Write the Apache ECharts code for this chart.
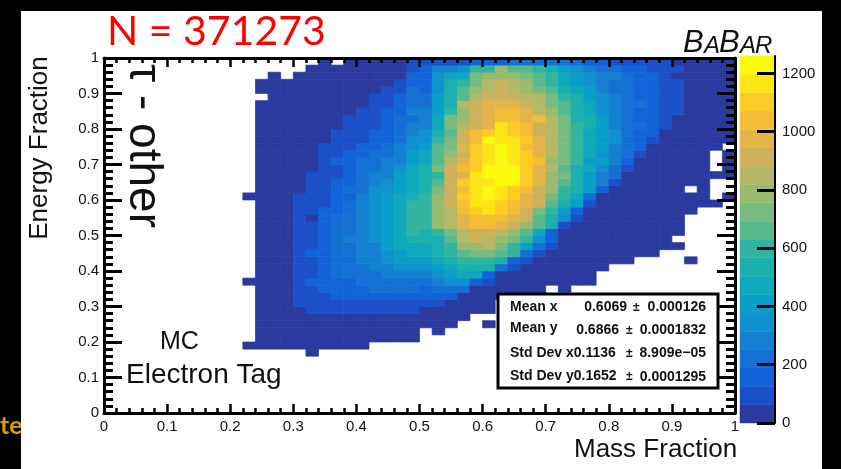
<!DOCTYPE html>
<html><head><meta charset="utf-8">
<style>html,body{margin:0;padding:0;background:#000}#c{width:841px;height:469px}</style>
<script src="https://cdn.jsdelivr.net/npm/echarts@6/dist/echarts.min.js"></script>
</head><body><div id="c"></div>
<script>
// Counts per bin. Each row starts at x bin 11 (x = 0.22); bin size 0.02. 0 = empty bin.
const firstXBin = 11, firstYBin = 8, binSize = 0.02, levelStep = 63;
const r8=[0,0,0,0,0,30];
const r9=[30,30,30,30,30,30,30,30,30,30];
const r10=[0,30,30,30,30,30,30,30,30,30,30,30,30,30];
const r11=[0,30,30,30,30,30,30,30,30,30,30,30,30,30,0,30];
const r12=[0,30,30,30,30,30,30,30,30,30,30,30,30,30,30,30,30,0,0,30];
const r13=[0,30,30,30,30,30,30,30,30,30,30,30,30,30,30,30,30,30];
const r14=[0,30,30,30,30,95,95,95,95,95,95,95,95,95,30,30,30,30,30,30];
const r15=[0,30,30,30,95,95,95,95,95,95,95,95,95,95,95,95,30,30,30,30];
const r16=[0,30,30,30,95,95,95,158,158,158,158,158,158,158,158,158,158,30,30,30,30,30,30,30];
const r17=[0,30,30,30,95,95,158,158,158,158,220,220,220,220,158,220,220,220,30,30,30,30,30,30,0,30];
const r18=[30,30,30,30,95,158,158,158,158,220,220,220,220,220,220,283,346,346,158,95,30,30,30,30,30,30,30,30];
const r19=[0,30,30,30,95,95,158,220,220,220,220,283,283,283,283,346,409,472,472,158,30,30,30,30,30,30,30,30];
const r20=[0,30,30,30,95,95,158,220,220,220,283,283,346,346,346,409,472,535,535,535,220,95,30,30,30,30,30,30,30];
const r21=[0,30,30,30,95,95,158,220,220,283,283,346,409,409,409,472,535,598,598,598,535,158,95,30,30,30,30,30,30,30,30,0,0,0,0,30];
const r22=[0,30,30,30,95,158,158,220,220,283,283,346,409,472,472,535,598,661,724,724,661,598,220,95,30,30,30,30,30,30,30,30,30];
const r23=[0,30,30,30,95,95,158,220,220,283,283,409,472,472,472,535,598,787,787,850,724,598,409,220,95,30,30,30,30,30,30,30,30,30,30];
const r24=[0,30,30,30,95,95,158,220,283,283,346,409,472,535,535,535,661,850,913,850,787,724,598,346,158,30,30,30,30,30,30,30,30,30];
const r25=[0,30,30,30,95,95,158,220,220,283,346,409,472,598,535,598,724,850,913,913,850,787,661,472,158,30,30,30,30,30,30,30,30,30,30];
const r26=[0,30,30,30,95,95,158,220,220,283,346,409,472,598,598,787,850,976,1039,1039,976,913,787,661,535,95,30,30,30,30,30,30,30,30,30];
const r27=[0,30,30,30,95,30,158,220,220,283,346,409,472,598,598,787,850,976,1039,1039,1039,976,913,661,535,346,95,30,30,30,30,30,30,30,30];
const r28=[0,30,30,30,95,95,158,158,220,283,346,409,472,598,598,787,850,1039,1102,1165,1102,1039,913,724,598,409,158,30,30,30,30,30,30,30,30,30];
const r29=[0,30,30,30,95,95,95,158,220,283,346,409,472,598,598,787,913,1039,1165,1165,1102,1039,976,913,661,535,409,95,30,30,30,30,30,30,30,30,30,30];
const r30=[30,30,30,30,95,95,95,158,158,283,346,409,472,535,598,787,913,1102,1165,1228,1165,1102,976,913,724,598,472,220,30,30,30,30,30,30,30,30,30,0,30];
const r31=[0,30,30,30,30,95,95,158,220,220,346,346,409,472,535,724,913,1039,1165,1228,1165,1102,1039,913,787,598,535,409,158,30,30,30,30,30,30,0,30];
const r32=[0,30,30,30,30,95,95,158,158,220,283,346,409,472,535,661,913,1102,1165,1165,1228,1228,1102,976,787,661,535,409,283,95,30,30,30,30,30,30,30];
const r33=[0,30,30,30,30,95,95,95,158,220,283,283,409,472,535,598,913,976,1165,1228,1228,1228,1102,976,787,724,535,409,283,220,30,30,30,30,30,30,30,30,30];
const r34=[0,30,30,30,30,30,95,95,158,220,220,283,346,472,535,724,913,1039,1102,1228,1228,1228,1102,976,850,661,535,472,346,220,95,30,30,30,30,30,30,0,30];
const r35=[0,30,30,30,30,30,95,158,158,220,220,283,283,409,472,661,850,976,1102,1165,1228,1165,1102,1039,787,724,598,409,409,283,158,30,30,30,30,30,30,0,30];
const r36=[0,30,30,30,30,30,95,95,158,158,220,220,283,409,472,661,787,913,1102,1165,1228,1165,1102,976,850,724,598,472,346,283,220,95,30,30,30,30,30,0,30];
const r37=[0,30,30,30,30,30,95,95,95,158,158,220,283,346,409,661,724,976,1102,1165,1228,1165,1039,976,850,724,598,472,409,283,220,158,30,30,30,30,30,30];
const r38=[0,30,30,30,30,30,30,95,95,95,158,158,220,346,346,598,724,913,1039,1228,1165,1165,1102,976,850,724,598,472,409,346,220,158,95,30,30,30,30,30,30];
const r39=[0,30,30,30,30,30,30,95,95,95,158,158,220,283,346,535,661,913,1039,1102,1165,1102,1039,913,850,724,598,472,409,346,220,158,158,30,30,30,30,30,30];
const r40=[0,30,30,30,30,30,30,30,95,95,95,158,220,283,283,472,724,850,913,976,1165,1102,1039,913,850,724,598,535,409,283,220,220,158,95,30,30,30,30,30];
const r41=[0,30,30,30,30,30,30,30,95,95,95,158,220,220,283,472,724,787,913,976,1039,1039,976,1039,850,724,535,535,409,283,220,158,158,95,30,30,30,30,30];
const r42=[0,30,30,30,30,30,30,30,30,95,95,158,158,283,283,409,598,787,913,976,1039,1039,976,850,787,661,535,472,346,283,220,158,158,95,95,30,30,30,30];
const r43=[0,30,30,30,30,30,30,30,30,30,95,95,158,220,220,409,535,850,913,976,976,976,913,850,724,661,535,472,346,283,220,220,158,95,95,30,30,30,30];
const r44=[0,0,30,30,30,30,30,30,30,30,95,95,158,220,220,409,535,661,850,913,913,913,850,850,724,598,535,409,346,283,220,158,158,95,95,30,30,30,30];
const r45=[0,30,30,30,30,30,30,30,30,30,30,95,95,220,158,346,535,661,787,850,913,850,787,724,661,535,472,409,283,220,220,158,158,95,95,30,30,30,30];
const r46=[0,30,30,30,30,30,30,30,30,30,30,30,95,158,158,346,535,598,724,850,913,850,787,661,598,472,409,346,283,220,220,158,158,95,95,30,30,30,30];
const r47=[0,0,30,0,30,30,30,30,30,30,30,30,30,158,158,346,472,472,724,787,787,787,724,661,598,472,409,346,283,283,220,158,158,95,30,30,30,30,30];
const r48=[0,0,0,0,0,30,30,30,30,30,30,30,30,95,158,283,283,346,598,598,787,661,661,598,535,409,346,283,220,220,158,158,95,95,95,30,30,30,30];
const r49=[0,0,0,0,0,0,30,0,30,30,30,30,30,95,95,95,95,95,158,158,158,220,220,220,220,220,220,158,158,95,95,95,95,95,30,30,30,30,30];
const rows=[r8,r9,r10,r11,r12,r13,r14,r15,r16,r17,r18,r19,r20,r21,r22,r23,r24,r25,r26,r27,r28,r29,r30,r31,r32,r33,r34,r35,r36,r37,r38,r39,r40,r41,r42,r43,r44,r45,r46,r47,r48,r49];
const palette=['#2a3a9e','#1a50c8','#1263d9','#1570d6','#1480d0','#0f90cf','#099fc9','#10a8bd','#1bb0ad','#32b5a0','#57b98e','#78bb80','#98bb70','#b5b866','#cdb25b','#e2b44a','#f5bd35','#fdcb25','#fde516','#faf80c'];
const colorTicks=[0,200,400,600,800,1000,1200];
const colorMax=levelStep*palette.length;

const cells=[];
rows.forEach((row,j)=>row.forEach((v,i)=>{ if(v>0) cells.push([(firstXBin+i)*binSize,(firstYBin+j)*binSize,v]); }));
const barCells=palette.map((c,k)=>[k*levelStep,(k+1)*levelStep,k]);

const chart=echarts.init(document.getElementById('c'),null,{renderer:'canvas'});
const FF='"Liberation Sans",Arial,sans-serif';
const tickX={show:true,inside:true,length:9,lineStyle:{color:'#000',width:2.5}};
const minorX={show:true,splitNumber:5,length:5,lineStyle:{color:'#000',width:2.5}};
const tickY={show:true,inside:true,length:18,lineStyle:{color:'#000',width:3}};
const minorY={show:true,splitNumber:5,length:9,lineStyle:{color:'#000',width:3}};
const line={show:true,onZero:false,lineStyle:{color:'#000',width:3}};
const lab={fontFamily:FF,fontSize:15,color:'#111'};
function t(text,x,y,size,extra){return Object.assign({type:'text',z:100,x:x,y:y,style:Object.assign({text:text,fontFamily:FF,fontSize:size,fill:'#111',textAlign:'left',textVerticalAlign:'middle'},extra||{})});}
const boxL=510, valR=706;
const graphic=[
 {type:'text',z:0,x:0,y:426,style:{text:'te',fontFamily:'Lato',fontWeight:'bold',fontSize:25,fill:'#d99f00',textVerticalAlign:'middle'}},
 {type:'rect',z:1,shape:{x:21,y:11,width:801,height:458},style:{fill:'#fff'}},
 t('N = 371273',107,32,41,{fontFamily:'Lato',fill:'#ff0000'}),
 t('B',683,43,31,{fontStyle:'italic',fill:'#111'}),
 t('A',704,46,24,{fontStyle:'italic',fill:'#111'}),
 t('B',719,43,31,{fontStyle:'italic',fill:'#111'}),
 t('A',740,46,24,{fontStyle:'italic',fill:'#111'}),
 t('R',755,46,24,{fontStyle:'italic',fill:'#111'}),
 Object.assign(t('\u03c4 - other',143,146,46,{textAlign:'center'}),{rotation:-Math.PI/2}),
 Object.assign(t('Energy Fraction',40,148,26,{textAlign:'center'}),{rotation:Math.PI/2}),
 t('MC',160,342,25),
 t('Electron Tag',126,375,28),
 t('Mass Fraction',574,450,26),
 {type:'rect',z:90,shape:{x:498,y:294,width:220,height:94},style:{fill:'#fff',stroke:'#000',lineWidth:3}},
 t('Mean x',boxL,307,14,{fontWeight:'bold'}),
 t('0.6069',627,307,14,{fontWeight:'bold',textAlign:'right'}),
 t('\u00b1',633,308,12,{fontWeight:'bold'}),
 t('0.000126',valR,307,14,{fontWeight:'bold',textAlign:'right'}),
 t('Mean y',boxL,328,14,{fontWeight:'bold'}),
 t('0.6866',619,330,14,{fontWeight:'bold',textAlign:'right'}),
 t('\u00b1',626,331,12,{fontWeight:'bold'}),
 t('0.0001832',valR,330,14,{fontWeight:'bold',textAlign:'right'}),
 t('Std Dev x0.1136',boxL,353,14,{fontWeight:'bold'}),
 t('\u00b1',626,354,12,{fontWeight:'bold'}),
 t('8.909e\u221205',valR,353,14,{fontWeight:'bold',textAlign:'right'}),
 t('Std Dev y0.1652',boxL,376,14,{fontWeight:'bold'}),
 t('\u00b1',626,377,12,{fontWeight:'bold'}),
 t('0.0001295',valR,377,14,{fontWeight:'bold',textAlign:'right'})
];
chart.setOption({
 animation:false,
 backgroundColor:'#000',
 graphic:graphic,
 grid:[
  {left:104,top:58,width:631,height:355,show:false},
  {left:740,top:56,width:35,height:367,show:false}
 ],
 xAxis:[
  {gridIndex:0,type:'value',min:0,max:1,interval:0.1,position:'bottom',z:10,axisLine:line,axisTick:tickX,minorTick:minorX,splitLine:{show:false},axisLabel:Object.assign({margin:6},lab)},
  {gridIndex:0,type:'value',min:0,max:1,interval:0.1,position:'top',z:10,axisLine:line,axisTick:tickX,minorTick:minorX,splitLine:{show:false},axisLabel:{show:false}},
  {gridIndex:1,type:'value',min:0,max:1,show:false}
 ],
 yAxis:[
  {gridIndex:0,type:'value',min:0,max:1,interval:0.1,position:'left',z:10,axisLine:line,axisTick:tickY,minorTick:minorY,splitLine:{show:false},axisLabel:Object.assign({margin:5},lab)},
  {gridIndex:0,type:'value',min:0,max:1,interval:0.1,position:'right',z:10,axisLine:line,axisTick:tickY,minorTick:minorY,splitLine:{show:false},axisLabel:{show:false}},
  {gridIndex:1,type:'value',min:0,max:colorMax,position:'right',z:10,axisLine:{show:true,onZero:false,lineStyle:{color:'#000',width:2}},
   axisTick:{show:true,inside:true,length:18,customValues:colorTicks,lineStyle:{color:'#000',width:3}},splitLine:{show:false},
   axisLabel:Object.assign({margin:7,customValues:colorTicks,formatter:function(v){return String(v);}},lab)}
 ],
 series:[
  {type:'custom',xAxisIndex:0,yAxisIndex:0,clip:true,data:cells,encode:{x:0,y:1},
   renderItem:function(p,api){
     const x=api.value(0),y=api.value(1),v=api.value(2);
     const a=api.coord([x,y]),b=api.coord([x+binSize,y+binSize]);
     const k=Math.min(palette.length-1,Math.floor(v/levelStep));
     return {type:'rect',shape:{x:a[0],y:b[1],width:b[0]-a[0],height:a[1]-b[1]},style:{fill:palette[k],stroke:palette[k],lineWidth:0.7}};
   }},
  {type:'custom',xAxisIndex:2,yAxisIndex:2,data:barCells,encode:{y:[0,1]},
   renderItem:function(p,api){
     const a=api.coord([0,api.value(0)]),b=api.coord([1,api.value(1)]);
     const k=api.value(2);
     return {type:'rect',shape:{x:a[0],y:b[1],width:b[0]-a[0],height:a[1]-b[1]},style:{fill:palette[k],stroke:palette[k],lineWidth:0.5}};
   }}
 ]
});
</script></body></html>
